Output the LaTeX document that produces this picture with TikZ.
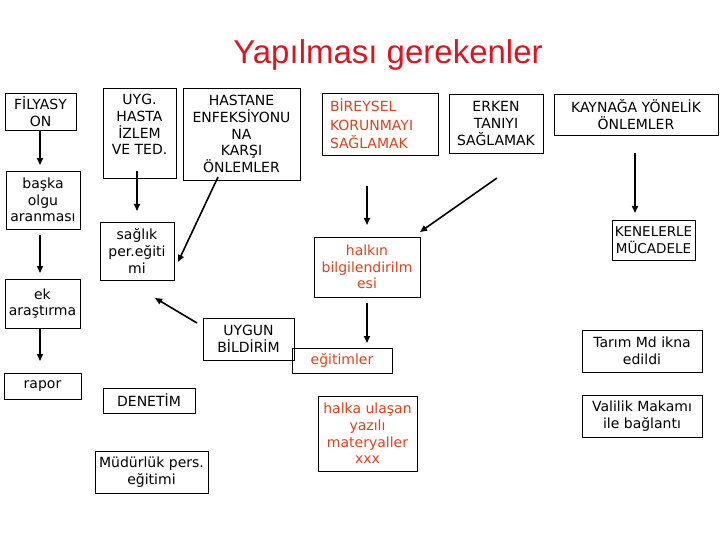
\documentclass[tikz,border=0pt]{standalone}
\usepackage{fontspec}
\setmainfont{DejaVu Sans}
\newfontfamily\titlefont{Liberation Sans}
\usetikzlibrary{arrows.meta}
\definecolor{titlered}{RGB}{225,20,30}
\definecolor{boxred}{RGB}{225,65,25}
\tikzset{
  box/.style={draw=black, line width=0.8pt, inner sep=0pt, align=center,
    font=\fontsize{14}{16.7}\selectfont, text=black},
  redbox/.style={box, text=boxred},
  arr/.style={line width=1.6pt, -{Triangle[length=7pt,width=6pt]}}
}
\begin{document}
\begin{tikzpicture}[x=1pt,y=-1pt]
\useasboundingbox (0,0) rectangle (720,540);
\node[font=\titlefont\fontsize{33}{38}\selectfont, text=titlered] (title) at (388,55) {Yapılması gerekenler};
% left column
\node[box, minimum width=71pt, minimum height=37pt] (fil) at (40.5,111.5) {FİLYASY\\ON};
\node[box, minimum width=74pt, minimum height=58pt] (bas) at (43,200) {başka\\olgu\\aranması};
\node[box, minimum width=75pt, minimum height=49pt] (ek) at (42.5,303.5) {ek\\araştırma};
\node[box, minimum width=77pt, minimum height=26pt] (rap) at (42.5,386) {rapor};
% second column
\node[box, minimum width=73pt, minimum height=90pt] (uyg) at (139.5,133) {UYG.\\HASTA\\İZLEM\\VE TED.\\\mbox{}};
\node[box, minimum width=74pt, minimum height=58pt] (sag) at (137,251) {sağlık\\per.eğiti\\mi};
\node[box, minimum width=92pt, minimum height=25pt] (den) at (149,400.5) {DENETİM};
\node[box, minimum width=113pt, minimum height=42pt] (mud) at (151.5,472) {Müdürlük pers.\\eğitimi};
% third column
\node[box, minimum width=117pt, minimum height=92pt] (has) at (241.5,134) {HASTANE\\ENFEKSİYONU\\NA\\KARŞI\\ÖNLEMLER};
\node[box, minimum width=91pt, minimum height=42pt] (uyb) at (248.5,339) {UYGUN\\BİLDİRİM};
% fourth column
\node[redbox, minimum width=116pt, minimum height=62pt, align=left, font=\fontsize{14}{18.5}\selectfont] (bir) at (380,124) {\makebox[100pt][l]{BİREYSEL}\\KORUNMAYI\\SAĞLAMAK};
\node[redbox, minimum width=106pt, minimum height=60pt] (hal) at (367,267) {halkın\\bilgilendirilm\\esi};
\node[redbox, minimum width=100pt, minimum height=25pt] (egi) at (342,360.5) {eğitimler};
\node[redbox, minimum width=99pt, minimum height=75pt] (hka) at (367.5,433.5) {halka ulaşan\\yazılı\\materyaller\\xxx};
% fifth column
\node[box, minimum width=94pt, minimum height=59pt] (erk) at (496,123.5) {ERKEN\\TANIYI\\SAĞLAMAK};
% right column
\node[box, minimum width=164pt, minimum height=41pt] (kay) at (636,114.5) {KAYNAĞA YÖNELİK\\ÖNLEMLER};
\node[box, minimum width=83pt, minimum height=40pt, font=\fontsize{13.5}{16.7}\selectfont] (ken) at (653.5,240) {KENELERLE\\MÜCADELE};
\node[box, minimum width=120pt, minimum height=42pt] (tar) at (642,351) {Tarım Md ikna\\edildi};
\node[box, minimum width=120pt, minimum height=42pt] (val) at (642,416) {Valilik Makamı\\ile bağlantı};
% arrow end points
\coordinate (filA) at (40,130);
\coordinate (basA) at (40,165);
\coordinate (basB) at (40,235);
\coordinate (ekA) at (40,273);
\coordinate (ekB) at (40,328);
\coordinate (rapA) at (40,361);
\coordinate (uygA) at (137,171);
\coordinate (sagC) at (137,211);
\coordinate (birA) at (367,186);
\coordinate (birB) at (367,225);
\coordinate (erkA) at (497,178);
\coordinate (halA) at (420,232);
\coordinate (uybA) at (197,323);
\coordinate (sagA) at (155,298);
\coordinate (hasA) at (218,177);
\coordinate (sagB) at (178,262);
\coordinate (kayA) at (635,153);
\coordinate (kenA) at (635,213);
\coordinate (halB) at (367,303);
\coordinate (egiA) at (367,343);
% connectors
\draw[arr] (filA) -- (basA);
\draw[arr] (basB) -- (ekA);
\draw[arr] (ekB) -- (rapA);
\draw[arr] (uygA) -- (sagC);
\draw[arr] (hasA) -- (sagB);
\draw[arr] (birA) -- (birB);
\draw[arr] (erkA) -- (halA);
\draw[arr] (kayA) -- (kenA);
\draw[arr] (uybA) -- (sagA);
\draw[arr] (halB) -- (egiA);
\end{tikzpicture}
\end{document}
